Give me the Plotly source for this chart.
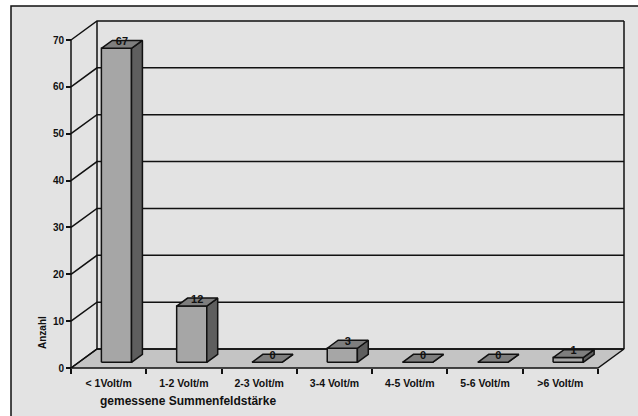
import plotly.graph_objects as go

# ---- data ----
categories = ["< 1Volt/m", "1-2 Volt/m", "2-3 Volt/m", "3-4 Volt/m",
              "4-5 Volt/m", "5-6 Volt/m", ">6 Volt/m"]
values = [67, 12, 0, 3, 0, 0, 1]
y_ticks = [0, 10, 20, 30, 40, 50, 60, 70]
y_title = "Anzahl"
x_title = "gemessene Summenfeldstärke"

# ---- geometry (pixels) ----
W, H = 638, 416
X0PX, X1PX = 71, 624      # front-left edge, back-right edge
Y0PX, YTOPPX = 368, 21    # front zero, back top
DX_PX, DY_PX = 26, 19     # depth offset
PAD = 6
N = len(categories)
YMAX = y_ticks[-1]

sx = (X1PX - X0PX - DX_PX) / N
sy = (Y0PX - YTOPPX - DY_PX) / YMAX
DX = DX_PX / sx
DY = DY_PX / sy

ml, mr, mt, mb = X0PX - PAD, W - (X1PX + PAD), YTOPPX - PAD, H - (Y0PX + PAD)
pw, ph = W - ml - mr, H - mt - mb


def px2paper(px, py):
    return (px - ml) / pw, (H - mb - py) / ph


LINE = dict(color="#111111", width=1.5)
FONT = "Liberation Sans, Arial, sans-serif"
BG = "#e3e3e3"
FLOOR = "#c4c4c4"
FRONT = "#a6a6a6"
SIDE = "#5e5e5e"
TOP = "#7e7e7e"

fig = go.Figure()


def poly(xs, ys, fill):
    fig.add_trace(go.Scatter(x=xs + [xs[0]], y=ys + [ys[0]], mode="lines",
                             fill="toself", fillcolor=fill, line=LINE,
                             hoverinfo="skip", showlegend=False))


def seg(xs, ys):
    fig.add_trace(go.Scatter(x=xs, y=ys, mode="lines", line=LINE,
                             hoverinfo="skip", showlegend=False))


xl, xr = -0.5, N - 0.5
# floor
poly([xl, xr, xr + DX, xl + DX], [0, 0, DY, DY], FLOOR)
# side-wall lines and back-wall gridlines
for v in y_ticks:
    seg([xl, xl + DX, xr + DX], [v, v + DY, v + DY])
# back wall verticals
seg([xl + DX, xl + DX], [DY, YMAX + DY])
seg([xr + DX, xr + DX], [DY, YMAX + DY])
# front axis line
seg([xl, xl], [0, YMAX])

# bars
F0, F1 = 0.30, 0.72
BW = 0.40
d = F1 - F0
lab_x, lab_y = [], []
for i, v in enumerate(values):
    b = F0 * DY
    x0 = i - BW / 2 + F0 * DX
    x1 = x0 + BW
    # front
    poly([x0, x1, x1, x0], [b, b, b + v, b + v], FRONT)
    # side
    poly([x1, x1 + d * DX, x1 + d * DX, x1],
         [b, b + d * DY, b + d * DY + v, b + v], SIDE)
    # top
    poly([x0, x1, x1 + d * DX, x0 + d * DX],
         [b + v, b + v, b + v + d * DY, b + v + d * DY], TOP)
    lab_x.append(i + (F0 + F1) / 2 * DX)
    lab_y.append(F1 * DY + v - 0.4)

fig.add_trace(go.Scatter(x=lab_x, y=lab_y, mode="text",
                         text=[str(v) for v in values],
                         textposition="middle center",
                         textfont=dict(family=FONT, size=11, color="#111111",
                                       weight="bold"),
                         cliponaxis=False, hoverinfo="skip", showlegend=False))

# outer frame
fx0, fy1 = px2paper(11, 6)
fx1, fy0 = px2paper(W + 20, H + 20)
fig.add_shape(type="rect", xref="paper", yref="paper", x0=fx0, x1=fx1,
              y0=fy0, y1=fy1, fillcolor=BG, line=dict(color="#111111", width=1.5),
              layer="below")

ax, ay = px2paper(42, 333)
fig.add_annotation(x=ax, y=ay, xref="paper", yref="paper", text=y_title,
                   textangle=-90, showarrow=False,
                   xanchor="center", yanchor="middle",
                   font=dict(family=FONT, size=10, color="#111111", weight="bold"))
bx, by = px2paper(188, 401)
fig.add_annotation(x=bx, y=by, xref="paper", yref="paper", text=x_title,
                   showarrow=False, xanchor="center", yanchor="middle",
                   font=dict(family=FONT, size=12, color="#111111", weight="bold"))

fig.update_layout(
    width=W, height=H,
    margin=dict(l=ml, r=mr, t=mt, b=mb, pad=0),
    paper_bgcolor="white", plot_bgcolor="rgba(0,0,0,0)",
    showlegend=False,
    xaxis=dict(range=[xl - PAD / sx, xr + DX + PAD / sx],
               anchor="free", position=PAD / ph,
               tickmode="array", tickvals=list(range(N)), ticktext=categories,
               ticks="outside", ticklen=5, tickcolor="rgba(0,0,0,0)",
               showgrid=False, zeroline=False, showline=False,
               tickfont=dict(family=FONT, size=10.5, color="#111111", weight="bold"),
               minor=dict(tickmode="array", tickvals=[i - 0.5 for i in range(N + 1)],
                          ticks="outside", ticklen=5, tickwidth=1.5,
                          tickcolor="#111111", showgrid=False),
               fixedrange=True),
    yaxis=dict(range=[-PAD / sy, YMAX + DY + PAD / sy],
               anchor="free", position=PAD / pw,
               tickmode="array", tickvals=y_ticks,
               ticks="outside", ticklen=5, tickwidth=1.5, tickcolor="#111111",
               showgrid=False, zeroline=False, showline=False,
               tickfont=dict(family=FONT, size=10, color="#111111", weight="bold"),
               fixedrange=True),
)

fig.write_html("out.html")
